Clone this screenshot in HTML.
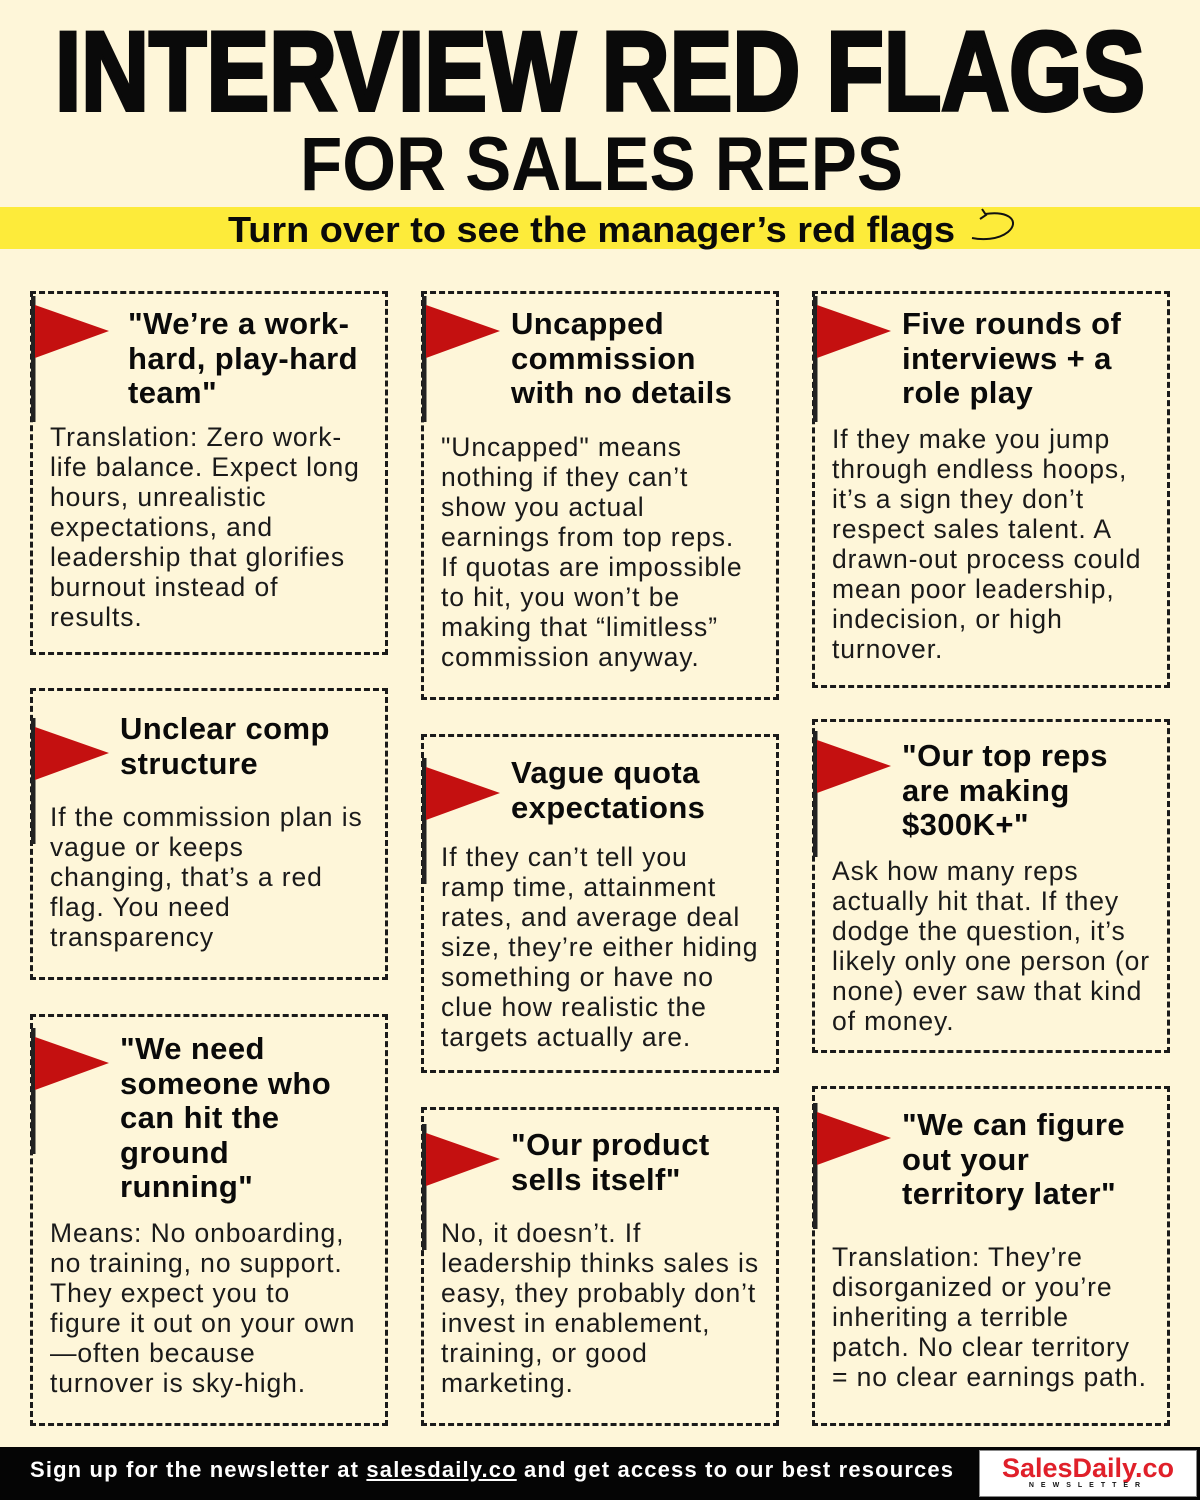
<!DOCTYPE html>
<html><head><meta charset="utf-8"><style>
*{margin:0;padding:0;box-sizing:border-box}
body{width:1200px;height:1500px;background:#fef6d9;position:relative;overflow:hidden;font-family:"Liberation Sans",Arial,sans-serif;color:#111}
.box{position:absolute;border:3px dashed #1a1a1a}
.h{position:absolute;font-weight:bold;font-size:31px;line-height:34.5px;white-space:nowrap;color:#0a0a0a;letter-spacing:0.4px}
.b{position:absolute;font-size:26.5px;line-height:30px;white-space:nowrap;color:#1a1a1a;letter-spacing:0.9px}
.band{position:absolute;left:0;top:207px;width:1200px;height:42px;background:#fdeb3a}
.foot{position:absolute;left:0;top:1447px;width:1200px;height:53px;background:#050505}
</style></head><body>
<svg width="1200" height="200" style="position:absolute;left:0;top:0">
<text x="55" y="110" textLength="1090" lengthAdjust="spacingAndGlyphs" font-family="Liberation Sans" font-weight="bold" font-size="112" fill="#0a0a0a" stroke="#0a0a0a" stroke-width="4">INTERVIEW RED FLAGS</text>
<text x="300" y="190" textLength="603" lengthAdjust="spacingAndGlyphs" font-family="Liberation Sans" font-weight="bold" font-size="76" fill="#0a0a0a">FOR SALES REPS</text>
</svg>
<div class="band"></div>
<svg width="1200" height="60" style="position:absolute;left:0;top:200px">
<text x="228" y="42" textLength="727" lengthAdjust="spacingAndGlyphs" font-family="Liberation Sans" font-weight="bold" font-size="36" fill="#0a0a0a">Turn over to see the manager’s red flags</text>
<path d="M985 14 C1010 10 1020 22 1008 32 C998 40 982 40 972 38" fill="none" stroke="#111" stroke-width="2"/>
<path d="M982 9 L986 15 L980 19" fill="none" stroke="#111" stroke-width="2"/>
</svg>

<div class="box" style="left:30px;top:291px;width:358px;height:364px"></div>
<div class="box" style="left:30px;top:688px;width:358px;height:292px"></div>
<div class="box" style="left:30px;top:1014px;width:358px;height:412px"></div>
<div class="box" style="left:421px;top:291px;width:358px;height:409px"></div>
<div class="box" style="left:421px;top:734px;width:358px;height:339px"></div>
<div class="box" style="left:421px;top:1107px;width:358px;height:319px"></div>
<div class="box" style="left:812px;top:291px;width:358px;height:397px"></div>
<div class="box" style="left:812px;top:719px;width:358px;height:334px"></div>
<div class="box" style="left:812px;top:1086px;width:358px;height:340px"></div>

<svg style="position:absolute;left:0;top:0" width="1200" height="1500">
<defs><g id="f"><rect x="0" y="-9" width="4.5" height="126" fill="#222"/><polygon points="4,0 78,26 4,53" fill="#c41010"/></g></defs>
<use href="#f" x="31" y="305"/>
<use href="#f" x="31" y="727"/>
<use href="#f" x="31" y="1037"/>
<use href="#f" x="422" y="305"/>
<use href="#f" x="422" y="767"/>
<use href="#f" x="422" y="1133"/>
<use href="#f" x="813" y="305"/>
<use href="#f" x="813" y="740"/>
<use href="#f" x="813" y="1112"/>
</svg>

<div class="h" style="left:128px;top:307px">"We’re a work-<br>hard, play-hard<br>team"</div>
<div class="b" style="left:50px;top:422px">Translation: Zero work-<br>life balance. Expect long<br>hours, unrealistic<br>expectations, and<br>leadership that glorifies<br>burnout instead of<br>results.</div>

<div class="h" style="left:120px;top:712px">Unclear comp<br>structure</div>
<div class="b" style="left:50px;top:802px">If the commission plan is<br>vague or keeps<br>changing, that’s a red<br>flag. You need<br>transparency</div>

<div class="h" style="left:120px;top:1032px">"We need<br>someone who<br>can hit the<br>ground<br>running"</div>
<div class="b" style="left:50px;top:1218px">Means: No onboarding,<br>no training, no support.<br>They expect you to<br>figure it out on your own<br>—often because<br>turnover is sky-high.</div>

<div class="h" style="left:511px;top:307px">Uncapped<br>commission<br>with no details</div>
<div class="b" style="left:441px;top:432px">"Uncapped" means<br>nothing if they can’t<br>show you actual<br>earnings from top reps.<br>If quotas are impossible<br>to hit, you won’t be<br>making that “limitless”<br>commission anyway.</div>

<div class="h" style="left:511px;top:756px">Vague quota<br>expectations</div>
<div class="b" style="left:441px;top:842px">If they can’t tell you<br>ramp time, attainment<br>rates, and average deal<br>size, they’re either hiding<br>something or have no<br>clue how realistic the<br>targets actually are.</div>

<div class="h" style="left:511px;top:1128px">"Our product<br>sells itself"</div>
<div class="b" style="left:441px;top:1218px">No, it doesn’t. If<br>leadership thinks sales is<br>easy, they probably don’t<br>invest in enablement,<br>training, or good<br>marketing.</div>

<div class="h" style="left:902px;top:307px">Five rounds of<br>interviews + a<br>role play</div>
<div class="b" style="left:832px;top:424px">If they make you jump<br>through endless hoops,<br>it’s a sign they don’t<br>respect sales talent. A<br>drawn-out process could<br>mean poor leadership,<br>indecision, or high<br>turnover.</div>

<div class="h" style="left:902px;top:739px">"Our top reps<br>are making<br>$300K+"</div>
<div class="b" style="left:832px;top:856px">Ask how many reps<br>actually hit that. If they<br>dodge the question, it’s<br>likely only one person (or<br>none) ever saw that kind<br>of money.</div>

<div class="h" style="left:902px;top:1108px">"We can figure<br>out your<br>territory later"</div>
<div class="b" style="left:832px;top:1242px">Translation: They’re<br>disorganized or you’re<br>inheriting a terrible<br>patch. No clear territory<br>= no clear earnings path.</div>

<div class="foot"></div>
<div style="position:absolute;left:30px;top:1456px;color:#fff;font-weight:bold;font-size:22px;line-height:28px;white-space:nowrap;letter-spacing:1.15px">Sign up for the newsletter at <u>salesdaily.co</u> and get access to our best resources</div>
<div style="position:absolute;left:979px;top:1450px;width:218px;height:47px;background:#fff;border:1px solid #888"></div>
<div style="position:absolute;left:979px;top:1452px;width:218px;text-align:center;color:#e0202a;font-weight:bold;font-size:27px;line-height:32px">SalesDaily.co</div>
<div style="position:absolute;left:979px;top:1482px;width:218px;text-align:center;color:#111;font-weight:bold;font-size:7px;letter-spacing:7px">NEWSLETTER</div>
</body></html>
